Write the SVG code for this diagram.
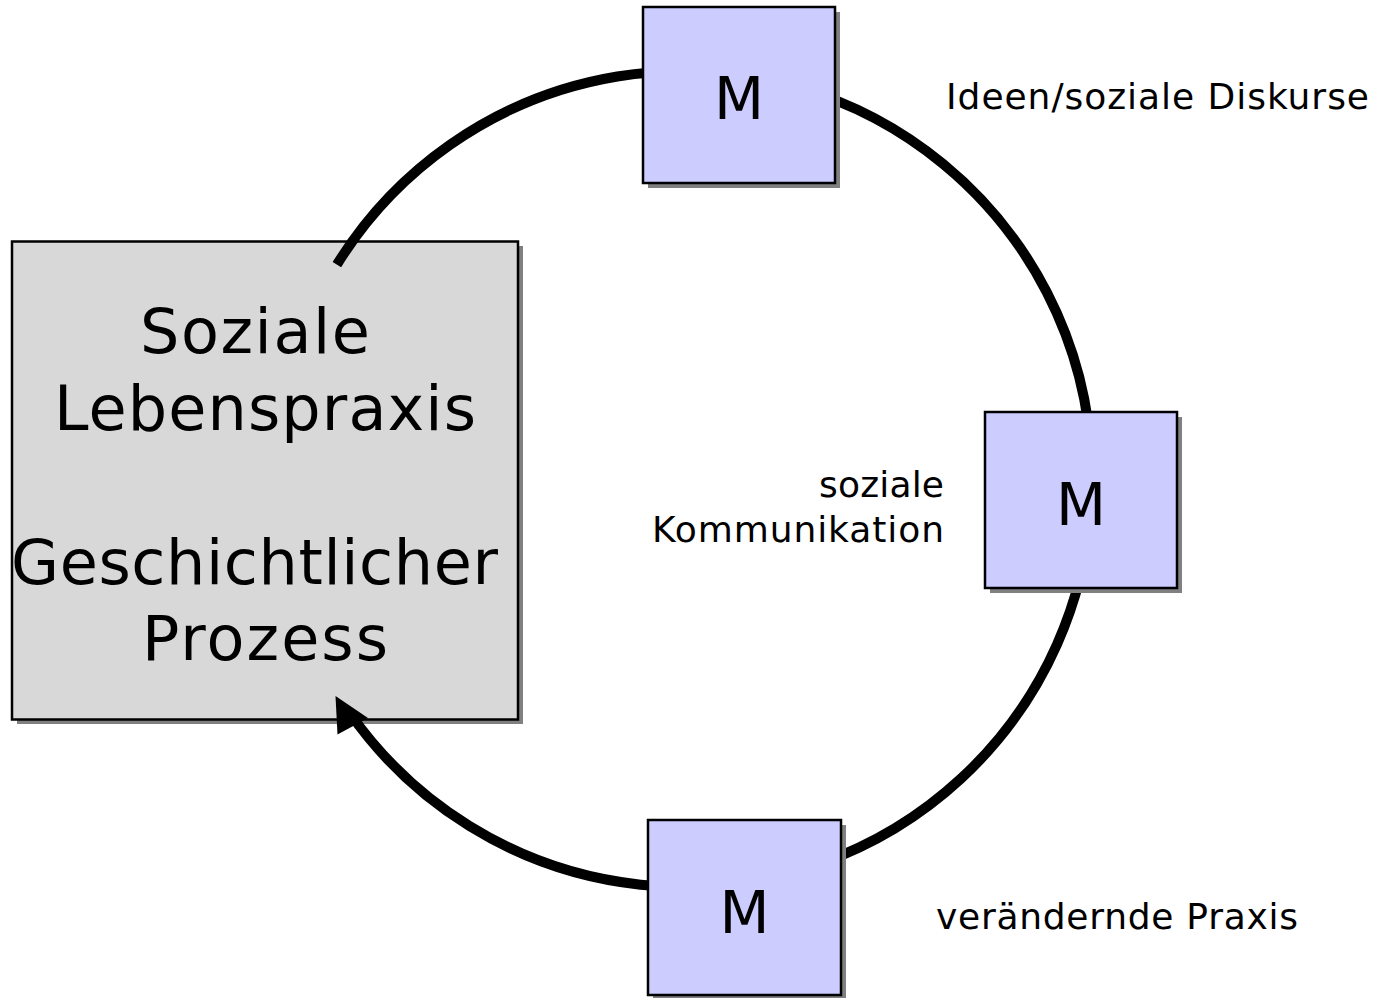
<svg xmlns="http://www.w3.org/2000/svg" width="1377" height="998" viewBox="0 0 1377 998">
  <style>
    .shadow { fill: #808080; }
    .gray { fill: #d8d8d8; stroke: #000; stroke-width: 2.5; }
    .mbox { fill: #ccccff; stroke: #000; stroke-width: 2.5; }
    .big { font-family: "DejaVu Sans", Verdana, sans-serif; font-size: 62px; fill: #000; text-anchor: middle; }
    .m { font-family: "DejaVu Sans", Verdana, sans-serif; font-size: 58px; fill: #000; text-anchor: middle; }
    .lbl { font-family: "DejaVu Sans", Verdana, sans-serif; font-size: 36px; fill: #000; }
    .conn { fill: none; stroke: #000; stroke-width: 10; stroke-linecap: butt; }
  </style>
  <rect width="1377" height="998" fill="#fff"/>

  <g id="node-lebenspraxis">
    <rect class="shadow" x="17" y="246" width="506" height="478"/>
    <rect class="gray" x="12" y="241.5" width="506" height="478"/>
    <text class="big" x="255" y="353" textLength="230" lengthAdjust="spacing">Soziale</text>
    <text class="big" x="265" y="430" textLength="422" lengthAdjust="spacing">Lebenspraxis</text>
    <text class="big" x="254.5" y="584" textLength="487" lengthAdjust="spacing">Geschichtlicher</text>
    <text class="big" x="265" y="660" textLength="246" lengthAdjust="spacing">Prozess</text>
  </g>

  <g id="connectors">
    <path class="conn" d="M 336.9 264.6 A 408 408 0 1 1 349.8 713"/>
    <polygon points="335.5,696 337.5,734.5 368,718" fill="#000"/>
  </g>

  <g id="node-m-top">
    <rect class="shadow" x="648" y="12" width="192" height="176"/>
    <rect class="mbox" x="643" y="7" width="192" height="176"/>
    <text class="m" x="739" y="119">M</text>
  </g>

  <g id="node-m-right">
    <rect class="shadow" x="990" y="417" width="192" height="176"/>
    <rect class="mbox" x="985" y="412" width="192" height="176"/>
    <text class="m" x="1081" y="525">M</text>
  </g>

  <g id="node-m-bottom">
    <rect class="shadow" x="653" y="825" width="193" height="175"/>
    <rect class="mbox" x="648" y="820" width="193" height="175"/>
    <text class="m" x="744.5" y="933">M</text>
  </g>

  <g id="labels">
    <text class="lbl" x="946" y="109" textLength="423" lengthAdjust="spacing">Ideen/soziale Diskurse</text>
    <text class="lbl" x="944" y="497" text-anchor="end" textLength="125" lengthAdjust="spacing">soziale</text>
    <text class="lbl" x="944" y="542" text-anchor="end" textLength="292" lengthAdjust="spacing">Kommunikation</text>
    <text class="lbl" x="936" y="929" textLength="362" lengthAdjust="spacing">verändernde Praxis</text>
  </g>
</svg>
